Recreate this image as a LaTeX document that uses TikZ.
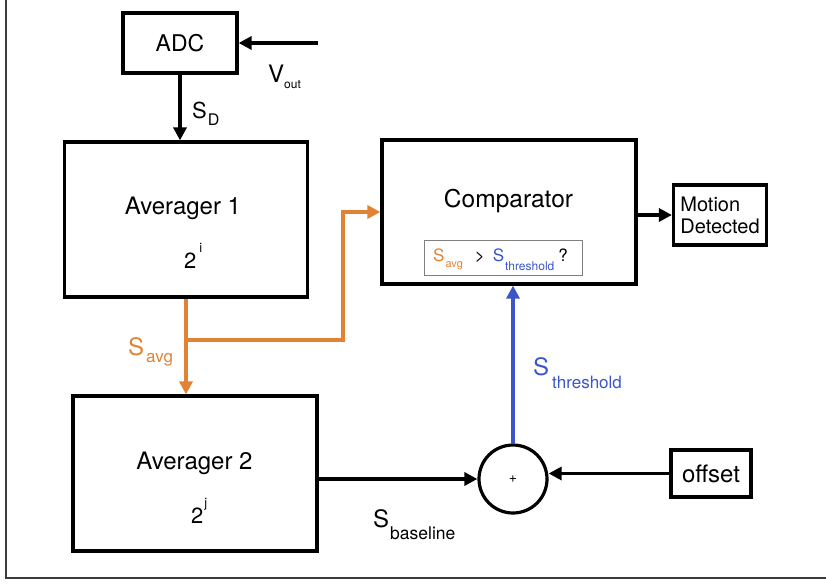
\documentclass[tikz,border=0pt]{standalone}
\usepackage{fontspec}
\setmainfont{TeX Gyre Heros}
\usetikzlibrary{arrows.meta}
\definecolor{sorange}{RGB}{226,131,52}
\definecolor{sblue}{RGB}{58,86,200}
\definecolor{framegray}{RGB}{60,60,60}
\newcommand{\fs}[1]{\fontsize{#1}{#1}\selectfont}
\begin{document}
\begin{tikzpicture}[x=1pt,y=-1pt,
  box/.style={draw=black, line width=3.2pt, inner sep=0pt},
  lbl/.style={anchor=base west, inner sep=0pt},
  ctr/.style={anchor=base, inner sep=0pt},
  arr/.style={line width=3.2pt, -{Triangle[length=13pt,width=13pt]}},
  oarr/.style={arr, draw=sorange},
  barr/.style={arr, draw=sblue}]
\useasboundingbox (0,0) rectangle (826,583);
% frame (left and bottom edges visible)
\draw[line width=1.6pt, framegray] (6,-5) -- (6,578) -- (832,578);

% blocks
\node[box, minimum width=114pt, minimum height=60pt] (adc) at (180,43) {\fs{23}ADC};
\node[box, minimum width=243pt, minimum height=155pt] (avg1) at (186,219.5) {};
\node[box, minimum width=244pt, minimum height=155pt] (avg2) at (195,473.5) {};
\node[box, minimum width=254pt, minimum height=144pt] (comp) at (509,212) {};
\node[draw=gray, line width=0.9pt, minimum width=158pt, minimum height=35pt, inner sep=0pt] (cond) at (503,257.5) {};
\node[box, minimum width=93pt, minimum height=60pt, align=left, font=\fontsize{20}{22}\selectfont] (motion) at (720,215) {Motion\\Detected};
\node[box, minimum width=80pt, minimum height=47pt] (offset) at (711,473.5) {\fs{24}offset};
\node[box, circle, minimum size=68pt] (sum) at (513,479) {\fs{14}+};

% texts inside blocks
\node[ctr] (t1) at (183,214) {\fs{24}Averager 1};
\node[lbl] (p1) at (184,268) {\fs{22}2\hspace{3pt}\raisebox{16pt}{\fs{13}i}};
\node[ctr] (t2) at (194.5,469) {\fs{24}Averager 2};
\node[lbl] (p2) at (191,523) {\fs{22}2\hspace{1pt}\raisebox{15.5pt}{\fs{13}j}};
\node[ctr] (tc) at (508.5,207) {\fs{24.5}Comparator};
\node[lbl] (tcond) at (433,261) {\fs{17}\textcolor{sorange}{S\hspace{1pt}\raisebox{-6pt}{\fs{11}avg}}\hspace{12pt}>\hspace{8pt}\textcolor{sblue}{S\hspace{1pt}\raisebox{-9pt}{\fs{12}threshold}}\hspace{4pt}?};

% signal labels
\node[lbl] (lvout) at (268,83) {\fs{24}V\raisebox{-6pt}{\fs{12}out}};
\node[lbl] (lsd) at (192,118) {\fs{22}S\hspace{1pt}\raisebox{-7pt}{\fs{16}D}};
\node[lbl, text=sorange] (lsavg) at (128,355) {\fs{24}S\hspace{2pt}\raisebox{-7pt}{\fs{17}avg}};
\node[lbl, text=sblue] (lsth) at (533,375) {\fs{24}S\hspace{3pt}\raisebox{-13pt}{\fs{17}threshold}};
\node[lbl] (lsbl) at (373,527) {\fs{24}S\hspace{1pt}\raisebox{-12pt}{\fs{17.5}baseline}};

% connectors
\coordinate (vin) at (318,43);
\draw[arr] (vin) -- (adc.east);
\draw[arr] (adc.south) -- (adc.south |- avg1.north);
\draw[oarr] (avg1.south) -- (avg1.south |- avg2.north);
\coordinate (br) at (186,340);
\coordinate (bend) at (343,212);
\draw[oarr] (br) -| (bend) -- (comp.west);
\draw[arr] (comp.east |- motion.west) -- (motion.west);
\draw[arr] (avg2.east |- sum) -- (sum.west);
\draw[arr] (offset.west) -- (offset.west -| sum.east);
\draw[barr] (sum.north) -- (sum.north |- comp.south);
\end{tikzpicture}
\end{document}
